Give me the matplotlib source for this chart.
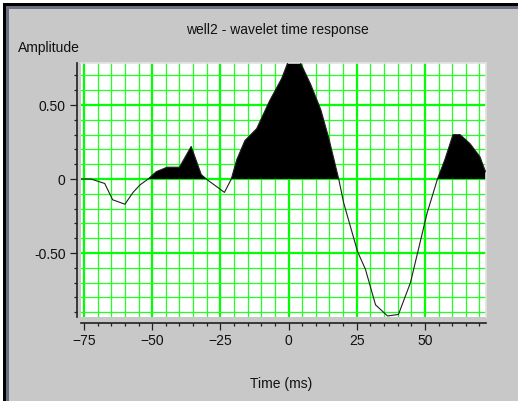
import matplotlib
matplotlib.use("Agg")
import matplotlib.pyplot as plt
from matplotlib.patches import Rectangle
from matplotlib.ticker import MultipleLocator, FixedLocator
import numpy as np

# wavelet samples
time_ms = [-76, -72.4, -67.4, -64.5, -60, -57, -54.5, -51.5, -48.5, -44.5,
           -40, -35.7, -32, -29.8, -23.5, -21, -19, -16, -11.7, -6.9,
           -2.5, 0, 4, 8.1, 11.8, 14.7, 18.4, 20.2, 25.3, 28.2,
           31.9, 36.3, 40.3, 44.7, 50.8, 54.6, 57.3, 60.3, 62.9, 66.5,
           70.2, 72, 73]
amplitude = [0, 0, -0.03, -0.14, -0.17, -0.09, -0.04, 0, 0.05, 0.08,
             0.08, 0.22, 0.03, -0.005, -0.09, 0, 0.13, 0.26, 0.34, 0.53,
             0.68, 0.8, 0.8, 0.64, 0.47, 0.28, 0, -0.16, -0.49, -0.61,
             -0.85, -0.925, -0.915, -0.70, -0.23, 0, 0.13, 0.30, 0.30, 0.24,
             0.15, 0.06, 0.03]

x_ticks = [-75, -50, -25, 0, 25, 50]
y_ticks = [-0.5, 0, 0.5]
y_labels = ["-0.50", "0", "0.50"]

plt.rcParams['font.family'] = ['Liberation Sans', 'DejaVu Sans']

W, H = 518, 401
fig = plt.figure(figsize=(W / 100, H / 100), dpi=100, facecolor='#c8c8c8')

# window frame (top and left edges)
fig.add_artist(Rectangle((0, 0), 3 / W, 1, transform=fig.transFigure, color='white', lw=0))
fig.add_artist(Rectangle((0, (H - 3) / H), 1, 3 / H, transform=fig.transFigure, color='white', lw=0))
fig.add_artist(Rectangle((3 / W, 0), 3 / W, (H - 3) / H, transform=fig.transFigure, color='black', lw=0))
fig.add_artist(Rectangle((3 / W, (H - 6) / H), 1, 3 / H, transform=fig.transFigure, color='black', lw=0))
fig.add_artist(Rectangle((6 / W, 0), 3 / W, (H - 6) / H, transform=fig.transFigure, color='#6a7080', lw=0))
fig.add_artist(Rectangle((6 / W, (H - 9) / H), 1, 3 / H, transform=fig.transFigure, color='#6a7080', lw=0))

ax = fig.add_axes([81 / W, (H - 317) / H, 405 / W, 254 / H])
ax.set_facecolor('white')

t = np.array(time_ms)
v = np.array(amplitude)
ax.fill_between(t, v, 0, where=v >= 0, interpolate=True, color='black', lw=0, zorder=2)
ax.plot(t, v, color='#202020', lw=0.8, zorder=3)

ax.set_xlim(-76.1, 72.4)
ax.set_ylim(-0.932, 0.784)

ax.xaxis.set_major_locator(FixedLocator(x_ticks))
ax.xaxis.set_minor_locator(MultipleLocator(5))
ax.yaxis.set_major_locator(FixedLocator(y_ticks))
ax.yaxis.set_minor_locator(MultipleLocator(0.1))
ax.set_yticklabels(y_labels)

ax.set_axisbelow(True)
ax.grid(which='major', color='#00ff00', lw=1.6)
ax.grid(which='minor', color='#22ff22', lw=0.9)

ax.tick_params(which='major', direction='out', length=5, width=0.9, color='#202020',
               labelsize=10, labelcolor='#111111', pad=3)
ax.tick_params(which='minor', direction='out', length=2.5, width=0.9, color='#202020')

for side in ['top', 'right']:
    ax.spines[side].set_color('#e2e2e2')
    ax.spines[side].set_linewidth(1.2)
ax.spines['left'].set_position(('outward', 3))
ax.spines['bottom'].set_position(('outward', 4))
ax.spines['left'].set_color('#202020')
ax.spines['bottom'].set_color('#202020')
ax.spines['left'].set_linewidth(1.2)
ax.spines['bottom'].set_linewidth(1.2)

fig.text(277 / W, 1 - 30 / H, "well2 - wavelet time response", ha='center', va='center',
         fontsize=10, color='#111111')
fig.text(18 / W, 1 - 48 / H, "Amplitude", ha='left', va='center', fontsize=10, color='#111111')
fig.text(281 / W, 1 - 384 / H, "Time (ms)", ha='center', va='center', fontsize=10, color='#111111')

fig.savefig("out.png", dpi=100, facecolor=fig.get_facecolor())
